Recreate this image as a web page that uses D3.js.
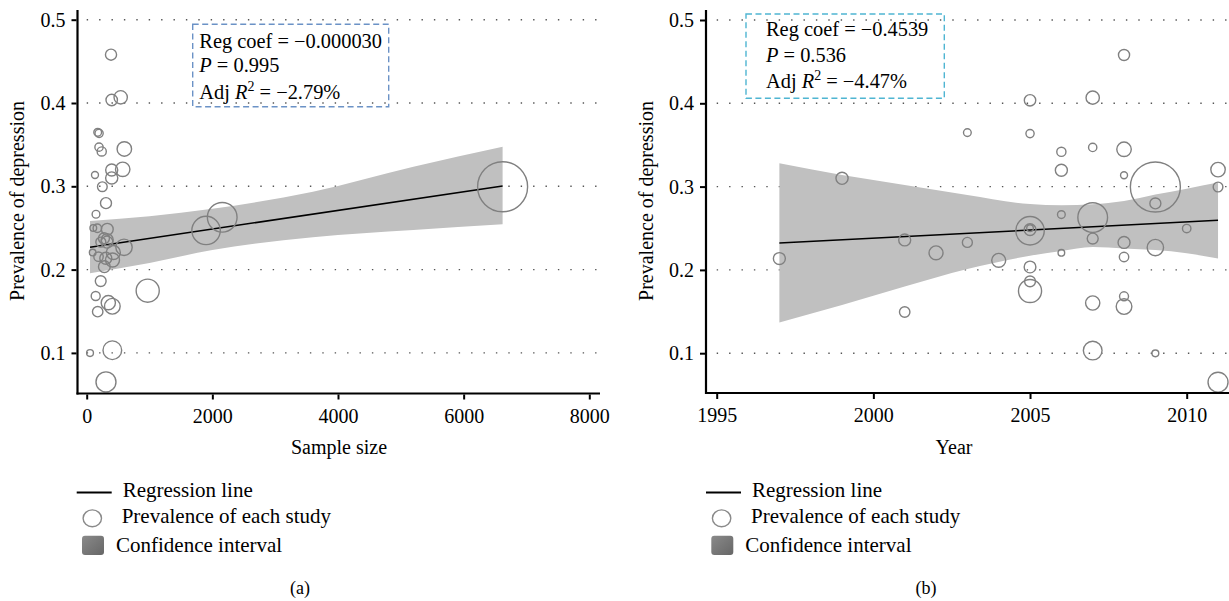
<!DOCTYPE html>
<html>
<head>
<meta charset="utf-8">
<script src="https://cdn.jsdelivr.net/npm/d3@7/dist/d3.min.js"></script>
<style>
  html, body { margin: 0; padding: 0; background: #fff; }
  svg { display: block; font-family: "Liberation Serif", "DejaVu Serif", serif; }
</style>
</head>
<body>
<svg id="chart" width="1229" height="601"></svg>
<script>
// ---------------- DATA ----------------
// Each study: sample size, prevalence, publication year
const studyN = [387, 398, 541, 175, 197, 196, 239, 599, 132, 398,
                573, 398, 249, 307, 148, 105, 169, 328, 1900, 2157,
                6620, 594, 424, 95, 281, 223, 971, 143, 344, 408,
                175, 53, 408, 307, 304, 326, 225, 411, 275, 323, 188];
const studyPrev = [0.458, 0.4036, 0.4068, 0.3648, 0.3636, 0.3470, 0.3418, 0.3448, 0.3136, 0.3196,
                   0.3204, 0.3100, 0.2995, 0.2798, 0.2664, 0.2500, 0.2496, 0.2484, 0.2470, 0.2628,
                   0.2995, 0.2268, 0.2205, 0.2205, 0.2035, 0.1862, 0.1747, 0.1683, 0.1603, 0.1560,
                   0.1495, 0.0998, 0.1032, 0.0652, 0.2136, 0.2360, 0.2330, 0.2115, 0.2376, 0.2330, 0.2155];
const studyYear = [2008, 2005, 2007, 2003, 2005, 2007, 2006, 2008, 2008, 2006,
                   2011, 1999, 2011, 2009, 2006, 2005, 2010, 2005, 2005, 2007,
                   2009, 2009, 2002, 2006, 2005, 2005, 2005, 2008, 2007, 2008,
                   2001, 2009, 2007, 2011, 1997, 2001, 2003, 2004, 2007, 2008, 2008];

// Regression line (a): sample size vs prevalence
const regA_x = [53, 6620];
const regA_y = [0.2268, 0.3005];
// Confidence band (a)
const ciA_x  = [53, 1000, 2000, 3600, 5200, 6620];
const ciA_lo = [0.1956, 0.2080, 0.2235, 0.2388, 0.2475, 0.2544];
const ciA_hi = [0.2583, 0.2640, 0.2730, 0.2935, 0.3235, 0.3475];

// Regression line (b): year vs prevalence
const regB_x = [1997, 2011];
const regB_y = [0.2323, 0.2595];
// Confidence band (b)
const ciB_x  = [1997, 1999, 2001, 2003, 2005, 2006, 2007, 2008, 2009, 2010, 2011];
const ciB_lo = [0.137, 0.158, 0.180, 0.201, 0.2170, 0.2227, 0.2275, 0.2256, 0.2238, 0.2200, 0.2136];
const ciB_hi = [0.328, 0.314, 0.302, 0.290, 0.2790, 0.2775, 0.2788, 0.2827, 0.2905, 0.2975, 0.3048];

// Tick labels
const yTicks = [0.1, 0.2, 0.3, 0.4, 0.5];
const xTicksA = [0, 2000, 4000, 6000, 8000];
const xTicksB = [1995, 2000, 2005, 2010];

// Stats text
const statsA = {coef: "\u22120.000030", p: "0.995", r2: "\u22122.79%"};
const statsB = {coef: "\u22120.4539", p: "0.536", r2: "\u22124.47%"};

const legendItems = ["Regression line", "Prevalence of each study", "Confidence interval"];

// ---------------- DRAWING ----------------
const svg = d3.select("#chart");
const defs = svg.append("defs");
const grad = defs.append("linearGradient").attr("id", "ciGrad")
  .attr("x1", 0).attr("y1", 0).attr("x2", 1).attr("y2", 1);
grad.append("stop").attr("offset", "0%").attr("stop-color", "#8a8a8a");
grad.append("stop").attr("offset", "100%").attr("stop-color", "#666");

const studies = studyN.map((n, i) => ({n, p: studyPrev[i], year: studyYear[i], w: n / (studyPrev[i] * (1 - studyPrev[i]))}));
const rScale = d3.scaleSqrt().domain([0, d3.max(studies, d => d.w)]).range([0, 25]);

const FS = 20;
const FSL = 21;
const FSS = 20.4;

function panel(opts) {
  const g = svg.append("g");
  const {axisX, x, y, xRightEnd, yTop, yBottom} = opts;

  // gridlines
  g.selectAll("line.grid").data(yTicks).enter().append("line")
    .attr("x1", x(opts.xTicks[0])).attr("x2", xRightEnd - 2)
    .attr("y1", d => y(d)).attr("y2", d => y(d))
    .attr("stroke", "#555").attr("stroke-width", 1.4)
    .attr("stroke-dasharray", "1.4,11").attr("stroke-linecap", "butt");

  // confidence band
  const band = opts.ciX.map((v, i) => ({x: v, lo: opts.ciLo[i], hi: opts.ciHi[i]}));
  g.append("path").datum(band)
    .attr("d", d3.area().x(d => x(d.x)).y0(d => y(d.lo)).y1(d => y(d.hi)).curve(d3.curveMonotoneX))
    .attr("fill", "#c0c0c0");

  // regression line
  const reg = opts.regX.map((v, i) => ({x: v, y: opts.regY[i]}));
  g.append("path").datum(reg)
    .attr("d", d3.line().x(d => x(d.x)).y(d => y(d.y)))
    .attr("stroke", "#000").attr("stroke-width", 1.5).attr("fill", "none");

  // circles
  g.selectAll("circle.st").data(studies).enter().append("circle")
    .attr("cx", d => x(opts.xVal(d))).attr("cy", d => y(d.p))
    .attr("r", d => rScale(d.w))
    .attr("fill", "none").attr("stroke", "#808080").attr("stroke-width", 1.4);

  // axes lines
  g.append("line").attr("x1", axisX).attr("x2", axisX).attr("y1", yTop).attr("y2", yBottom + 1)
    .attr("stroke", "#000").attr("stroke-width", 2.2);
  g.append("line").attr("x1", axisX - 1).attr("x2", xRightEnd).attr("y1", yBottom).attr("y2", yBottom)
    .attr("stroke", "#000").attr("stroke-width", 2.2);

  // y axis ticks via d3 axis
  const yAxis = d3.axisLeft(y).tickValues(yTicks).tickSize(5).tickPadding(6).tickFormat(d3.format(".1f"));
  const ya = g.append("g").attr("transform", `translate(${axisX - 1},0)`).call(yAxis);
  ya.select(".domain").remove();
  ya.selectAll(".tick line").attr("stroke", "#000").attr("stroke-width", 2);
  ya.selectAll(".tick text").attr("font-size", FS).attr("font-family", "Liberation Serif").attr("fill", "#000").attr("dy", "0.33em");

  // x axis ticks
  const xAxis = d3.axisBottom(x).tickValues(opts.xTicks).tickSize(5).tickPadding(9).tickFormat(d3.format("d"));
  const xa = g.append("g").attr("transform", `translate(0,${yBottom + 1})`).call(xAxis);
  xa.select(".domain").remove();
  xa.selectAll(".tick line").attr("stroke", "#000").attr("stroke-width", 2);
  xa.selectAll(".tick text").attr("font-size", FS).attr("font-family", "Liberation Serif").attr("fill", "#000").attr("dy", "0.72em");

  // axis titles
  g.append("text").attr("x", opts.xTitleX).attr("y", 454).attr("text-anchor", "middle")
    .attr("font-size", FS).text(opts.xTitle);
  g.append("text").attr("transform", `translate(${opts.yTitleX},${201}) rotate(-90)`)
    .attr("text-anchor", "middle").attr("font-size", FS).text("Prevalence of depression");

  // stats box
  const b = opts.box;
  g.append("rect").attr("x", b.x).attr("y", b.y).attr("width", b.w).attr("height", b.h)
    .attr("fill", "none").attr("stroke", b.color).attr("stroke-width", 1.4).attr("stroke-dasharray", "6,3.5");
  const s = opts.stats;
  g.append("text").attr("x", b.tx).attr("y", b.b1).attr("font-size", FSS).text(`Reg coef = ${s.coef}`);
  const t2 = g.append("text").attr("x", b.tx).attr("y", b.b2).attr("font-size", FSS);
  t2.append("tspan").attr("font-style", "italic").text("P");
  t2.append("tspan").text(` = ${s.p}`);
  const t3 = g.append("text").attr("x", b.tx).attr("y", b.b3).attr("font-size", FSS);
  t3.append("tspan").text("Adj ");
  t3.append("tspan").attr("font-style", "italic").text("R");
  t3.append("tspan").attr("font-size", 14).attr("dy", -8).text("2");
  t3.append("tspan").attr("dy", 8).text(` = ${s.r2}`);

  // legend
  const L = opts.legend;
  g.append("line").attr("x1", L.x0).attr("x2", L.x0 + 35).attr("y1", 492.5).attr("y2", 492.5)
    .attr("stroke", "#000").attr("stroke-width", 2);
  g.append("ellipse").attr("cx", L.x0 + 15.6).attr("cy", 518.3).attr("rx", 9.2).attr("ry", 8.4)
    .attr("fill", "#fff").attr("stroke", "#8a8a8a").attr("stroke-width", 1.4);
  g.append("rect").attr("x", L.x0 + 5.3).attr("y", 535.7).attr("width", 22).attr("height", 19.3)
    .attr("rx", 3).attr("fill", "url(#ciGrad)");
  g.append("text").attr("x", L.x0 + 46).attr("y", 496.7).attr("font-size", FSL).text(legendItems[0]);
  g.append("text").attr("x", L.x0 + 45).attr("y", 523.3).attr("font-size", FSL).text(legendItems[1]);
  g.append("text").attr("x", L.x0 + 39.3).attr("y", 551.7).attr("font-size", FSL).text(legendItems[2]);

  g.append("text").attr("x", opts.capX).attr("y", 593.5).attr("text-anchor", "middle")
    .attr("font-size", 18).text(opts.caption);
}

// panel (a)
panel({
  axisX: 77.5, xRightEnd: 600, yTop: 10, yBottom: 393.5,
  x: d3.scaleLinear().domain([0, 8000]).range([86.7, 589.3]),
  y: d3.scaleLinear().domain([0.1, 0.5]).range([352.9, 19.7]),
  xTicks: xTicksA, xVal: d => d.n,
  ciX: ciA_x, ciLo: ciA_lo, ciHi: ciA_hi, regX: regA_x, regY: regA_y,
  xTitle: "Sample size", xTitleX: 339, yTitleX: 24,
  box: {x: 192.7, y: 24.3, w: 196, h: 82.4, color: "#6b92c6", tx: 199.3, b1: 48.3, b2: 72, b3: 99},
  stats: statsA,
  legend: {x0: 76.7},
  caption: "(a)", capX: 300
});

// panel (b)
panel({
  axisX: 706, xRightEnd: 1229, yTop: 10, yBottom: 393,
  x: d3.scaleLinear().domain([1995, 2010]).range([716.7, 1186.7]),
  y: d3.scaleLinear().domain([0.1, 0.5]).range([353.2, 20]),
  xTicks: xTicksB, xVal: d => d.year,
  ciX: ciB_x, ciLo: ciB_lo, ciHi: ciB_hi, regX: regB_x, regY: regB_y,
  xTitle: "Year", xTitleX: 954, yTitleX: 653,
  box: {x: 746, y: 14, w: 198.3, h: 84.3, color: "#4fb5d2", tx: 766, b1: 36, b2: 61.7, b3: 88.3},
  stats: statsB,
  legend: {x0: 706},
  caption: "(b)", capX: 926
});
</script>
</body>
</html>
